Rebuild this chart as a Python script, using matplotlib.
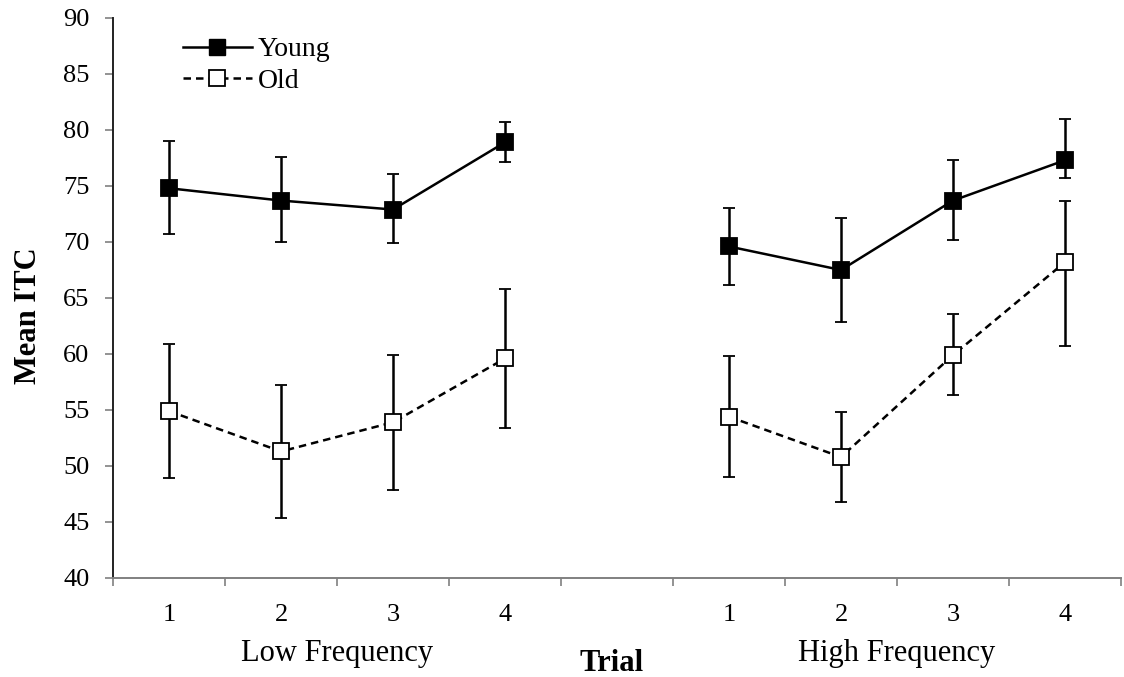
import numpy as np
import matplotlib.pyplot as plt
import matplotlib.transforms as mtransforms
from matplotlib.lines import Line2D

plt.rcParams['font.family'] = ['Liberation Serif', 'DejaVu Serif']

# 数据：低频 / 高频 各4个试次
trials = ['1', '2', '3', '4']
groups = ['Low Frequency', 'High Frequency']

young_low = np.array([74.8, 73.7, 72.9, 78.9])
young_low_hi = np.array([79.0, 77.6, 76.1, 80.7])
young_low_lo = np.array([70.7, 70.0, 69.9, 77.1])
old_low = np.array([54.9, 51.3, 53.9, 59.6])
old_low_hi = np.array([60.9, 57.2, 59.9, 65.8])
old_low_lo = np.array([48.9, 45.4, 47.9, 53.4])

young_high = np.array([69.6, 67.5, 73.7, 77.3])
young_high_hi = np.array([73.0, 72.1, 77.3, 81.0])
young_high_lo = np.array([66.2, 62.9, 70.2, 75.7])
old_high = np.array([54.4, 50.8, 59.9, 68.2])
old_high_hi = np.array([59.8, 54.8, 63.6, 73.7])
old_high_lo = np.array([49.0, 46.8, 56.3, 60.7])

x_low = np.arange(4)
x_high = np.arange(5, 9)

fig = plt.figure(figsize=(11.24, 6.77), dpi=100)
ax = fig.add_axes([113 / 1124, 1 - 578 / 677, 1008 / 1124, 560 / 677])

dash = (0, (3, 2))
common = dict(color='black', lw=1.8, marker='s', markersize=12, capsize=4.5,
              elinewidth=1.8, capthick=1.8, markeredgecolor='black', markeredgewidth=1.3)


def draw(x, y, hi, lo, ls, fc):
    ax.errorbar(x, y, yerr=[y - lo, hi - y], ls=ls, markerfacecolor=fc, **common)


draw(x_low, young_low, young_low_hi, young_low_lo, '-', 'black')
draw(x_low, old_low, old_low_hi, old_low_lo, dash, 'white')
draw(x_high, young_high, young_high_hi, young_high_lo, '-', 'black')
draw(x_high, old_high, old_high_hi, old_high_lo, dash, 'white')

ax.set_xlim(-0.5, 8.5)
ax.set_ylim(40, 90)
ax.set_yticks(np.arange(40, 91, 5))
ax.tick_params(axis='y', labelsize=19, length=6, width=1.2, direction='out', color='#808080', pad=11)

# 分类边界处画刻度，标签放在中间
ax.set_xticks(np.arange(-0.5, 9, 1))
ax.set_xticklabels([])
ax.set_xticks(list(x_low) + list(x_high), minor=True)
ax.set_xticklabels(trials + trials, minor=True)
ax.tick_params(axis='x', which='major', length=6, width=1.2, color='#808080')
ax.tick_params(axis='x', which='minor', length=0, labelsize=19, pad=19)

for s in ['top', 'right']:
    ax.spines[s].set_visible(False)
ax.spines['left'].set_color('#222222')
ax.spines['left'].set_linewidth(1.4)
ax.spines['bottom'].set_color('#808080')
ax.spines['bottom'].set_linewidth(1.4)

trans = mtransforms.blended_transform_factory(ax.transData, ax.transAxes)
ax.text(1.5, -0.134, groups[0], transform=trans, ha='center', va='center', fontsize=22)
ax.text(6.5, -0.134, groups[1], transform=trans, ha='center', va='center', fontsize=22)
ax.text(3.95, -0.152, 'Trial', transform=trans, ha='center', va='center', fontsize=22, fontweight='bold')

ax.text(-0.084, 0.468, 'Mean ITC', transform=ax.transAxes, rotation=90,
        ha='center', va='center', fontsize=22, fontweight='bold')

handles = [
    Line2D([], [], color='black', lw=1.8, ls='-', marker='s', markersize=12,
           markerfacecolor='black', markeredgecolor='black'),
    Line2D([], [], color='black', lw=1.8, ls=dash, marker='s', markersize=12,
           markerfacecolor='white', markeredgecolor='black', markeredgewidth=1.3),
]
ax.legend(handles, ['Young', 'Old'], loc='upper left', bbox_to_anchor=(0.069, 0.966),
          frameon=False, fontsize=20, borderpad=0, borderaxespad=0,
          handlelength=2.5, handletextpad=0.2, labelspacing=0.22)

fig.savefig('out.png', dpi=100)
